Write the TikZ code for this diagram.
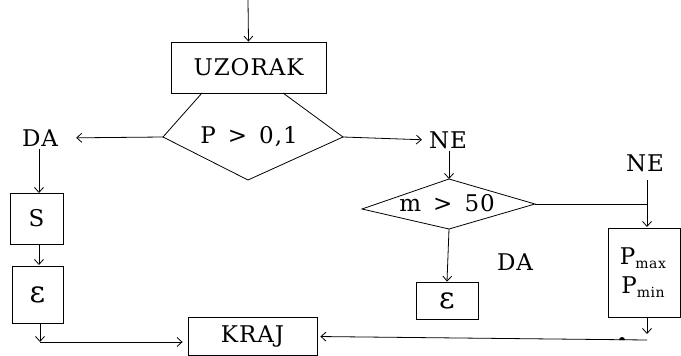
\documentclass[tikz,border=0pt]{standalone}
\usepackage{fontspec}
\setmainfont{DejaVu Serif}[LetterSpace=4]
\usetikzlibrary{arrows.meta}
\newcommand{\subtx}[1]{\raisebox{-0.35ex}{\fontsize{14}{14}\selectfont #1}}
\newcommand{\eps}{{\fontsize{30}{30}\selectfont ε}}
\begin{document}
\begin{tikzpicture}[x=1pt,y=-1pt,
  every node/.style={font=\fontsize{23}{27}\selectfont, inner sep=0pt},
  box/.style={draw, line width=0.8pt},
  ln/.style={line width=0.8pt},
  arr/.style={ln, -{Straight Barb[length=5pt,width=9pt]}}]
\useasboundingbox (0,0) rectangle (681,356);

% top
\coordinate (top) at (248,0);
\node[box, minimum width=155pt, minimum height=51pt] (uz) at (248.5,67.5) {UZORAK};
\draw[arr] (top) -- (uz.north);

% decision 1
\coordinate (d1l) at (163,137);
\coordinate (d1r) at (343,137);
\coordinate (d1b) at (248,180);
\coordinate (d1a) at (202,93);
\coordinate (d1c) at (283,93);
\draw[ln] (d1a) -- (d1l) -- (d1b) -- (d1r) -- (d1c);
\node (d1) at (249,137) {P \,>\, 0,1};

% left branch
\node (da1) at (40,138) {DA};
\draw[arr, shorten >=18pt] (d1l) -- (da1.east);
\node[box, minimum width=53pt, minimum height=51pt] (s) at (36.5,218.5) {S};
\draw[arr, shorten <=2pt] (da1.south -| 39,0) -- (39,193);
\node[box, minimum width=51pt, minimum height=57pt] (e1) at (37.5,294.5) {\eps};
\draw[arr] (39,244) -- (39,265);
\coordinate (c1) at (40,342);
\draw[arr] (40,323) -- (c1);

% KRAJ
\node[box, minimum width=129pt, minimum height=38pt] (kraj) at (252.5,336.5) {KRAJ};
\draw[arr, shorten >=5pt] (c1) -- (c1 -| kraj.west);

% right branch
\node (ne1) at (448,140) {NE};
\draw[arr, shorten >=7pt] (d1r) -- (ne1.west);
\coordinate (d2l) at (362,209);
\coordinate (d2t) at (449,179);
\coordinate (d2r) at (535,204);
\coordinate (d2b) at (449,229);
\draw[ln] (d2l) -- (d2t) -- (d2r) -- (d2b) -- cycle;
\node (d2) at (447,203) {m \,>\, 50};
\draw[arr, shorten <=2pt] (ne1.south -| d2t) -- (d2t);

\node (da2) at (515,262) {DA};
\node[box, minimum width=62pt, minimum height=37pt] (e2) at (447,300.5) {\eps};
\draw[arr] (d2b) -- (e2.north);

\node (ne2) at (645,163) {NE};
\node[box, minimum width=72pt, minimum height=89pt] (pm) at (644,272.5) {};
\node (pmax) at (643,258) {P\subtx{max}};
\node (pmin) at (643,287) {P\subtx{min}};
\coordinate (j) at (647,204);
\draw[ln] (d2r) -- (j);
\draw[arr] (647,180) -- (647,227);
\coordinate (c2) at (647,340);
\draw[arr] (647,317) -- (647,334);
\draw[arr, shorten >=3pt] (c2) -- (kraj.east);
\fill (619,340) arc[start angle=180, end angle=0, radius=3pt] -- cycle;
\end{tikzpicture}
\end{document}
